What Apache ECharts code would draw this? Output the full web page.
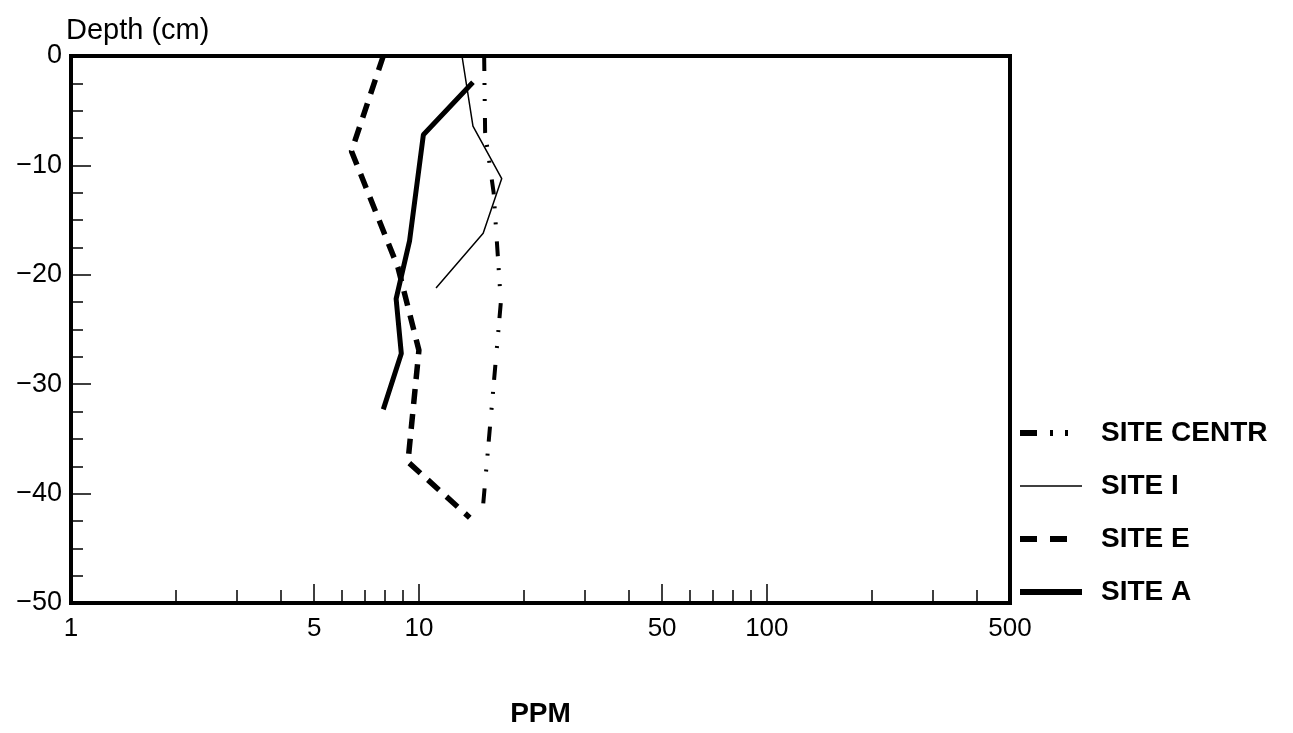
<!DOCTYPE html>
<html>
<head>
<meta charset="utf-8">
<script src="https://cdn.jsdelivr.net/npm/echarts@6/dist/echarts.min.js"></script>
<style>
html, body { margin: 0; padding: 0; background: #fff; }
#main { width: 1293px; height: 733px; }
</style>
</head>
<body>
<div id="main"></div>
<script>
// values: [ppm, depth]
var siteCentrPpm   = [15.4, 15.5, 16.4, 17.2, 16.2, 15.3];
var siteCentrDepth = [0, -7, -12.5, -22.5, -32, -41];
var siteIPpm   = [13.3, 14.3, 17.3, 15.3, 11.2];
var siteIDepth = [0, -6.4, -11.2, -16.2, -21.2];
var siteEPpm   = [7.9, 6.4, 8.7, 10.0, 9.3, 14.0];
var siteEDepth = [0, -8.7, -19.3, -26.9, -37.1, -42.2];
var siteAPpm   = [14.3, 10.3, 9.4, 8.6, 8.9, 7.9];
var siteADepth = [-2.4, -7.2, -16.9, -22.2, -27.2, -32.3];

var xLabelValues = [1, 5, 10, 50, 100, 500];
var xMajorTicks  = [5, 10, 50, 100];
var xMinorTicks  = [2, 3, 4, 6, 7, 8, 9, 20, 30, 40, 60, 70, 80, 90, 200, 300, 400];

function pairs(xs, ys) {
    var out = [];
    for (var i = 0; i < xs.length; i++) out.push([xs[i], ys[i]]);
    return out;
}

var font = 'Liberation Sans, Arial, sans-serif';

var myChart = echarts.init(document.getElementById('main'));
var option = {
    animation: false,
    backgroundColor: '#fff',
    title: {
        text: 'Depth (cm)',
        left: 61,
        top: 11,
        textStyle: { color: '#000', fontFamily: font, fontSize: 29, fontWeight: 'normal' }
    },
    legend: {
        orient: 'vertical',
        left: 1012,
        top: 414,
        itemWidth: 62,
        itemHeight: 16,
        itemGap: 25,
        itemStyle: { opacity: 0 },
        textStyle: { color: '#000', fontFamily: font, fontSize: 28, fontWeight: 'bold', padding: [0, 0, 0, 14] },
        data: [
            { name: 'SITE CENTR', itemStyle: { opacity: 0 }, lineStyle: { color: '#000', width: 6, type: [17, 13, 3, 12, 3, 20] } },
            { name: 'SITE I', itemStyle: { opacity: 0 }, lineStyle: { color: '#000', width: 1.5, type: 'solid' } },
            { name: 'SITE E', itemStyle: { opacity: 0 }, lineStyle: { color: '#000', width: 6, type: [17, 13, 17, 40] } },
            { name: 'SITE A', itemStyle: { opacity: 0 }, lineStyle: { color: '#000', width: 6, type: 'solid' } }
        ]
    },
    grid: {
        left: 71, right: 283, top: 56, bottom: 129,
        show: true,
        borderColor: '#000',
        borderWidth: 4
    },
    xAxis: [
        {   // labels + major ticks
            type: 'log',
            logBase: 10,
            min: 1,
            max: 500,
            position: 'bottom',
            name: 'PPM',
            nameLocation: 'middle',
            nameGap: 97,
            nameTextStyle: { color: '#000', fontFamily: font, fontSize: 28, fontWeight: 'bold' },
            axisLine: { onZero: false, lineStyle: { color: '#000', width: 4 } },
            axisTick: { inside: true, length: 19, lineStyle: { color: '#000', width: 1.5 }, customValues: xMajorTicks },
            axisLabel: { color: '#000', fontFamily: font, fontSize: 26, margin: 13, customValues: xLabelValues },
            splitLine: { show: false }
        },
        {   // minor ticks
            type: 'log',
            logBase: 10,
            min: 1,
            max: 500,
            position: 'bottom',
            axisLine: { show: false, onZero: false },
            axisTick: { inside: true, length: 13, lineStyle: { color: '#000', width: 1.5 }, customValues: xMinorTicks },
            axisLabel: { show: false },
            splitLine: { show: false }
        }
    ],
    yAxis: {
        type: 'value',
        min: -50,
        max: 0,
        interval: 10,
        axisLine: { onZero: false, lineStyle: { color: '#000', width: 4 } },
        axisTick: { inside: true, length: 20, lineStyle: { color: '#000', width: 1.5 } },
        minorTick: { show: true, splitNumber: 4, length: 12, lineStyle: { color: '#000', width: 1.5 } },
        axisLabel: {
            color: '#000', fontFamily: font, fontSize: 27, margin: 9,
            formatter: function (v) { return String(v).replace('-', '\u2212'); }
        },
        splitLine: { show: false }
    },
    series: [
        {
            name: 'SITE CENTR',
            type: 'line',
            symbol: 'none',
            itemStyle: { color: '#000' },
            lineStyle: { color: '#000', width: 4, type: [15, 12, 2, 14, 2, 17] },
            data: pairs(siteCentrPpm, siteCentrDepth)
        },
        {
            name: 'SITE I',
            type: 'line',
            symbol: 'none',
            itemStyle: { color: '#000' },
            lineStyle: { color: '#000', width: 1.5 },
            data: pairs(siteIPpm, siteIDepth)
        },
        {
            name: 'SITE E',
            type: 'line',
            symbol: 'none',
            itemStyle: { color: '#000' },
            lineStyle: { color: '#000', width: 5.5, type: [15, 10] },
            data: pairs(siteEPpm, siteEDepth)
        },
        {
            name: 'SITE A',
            type: 'line',
            symbol: 'none',
            itemStyle: { color: '#000' },
            lineStyle: { color: '#000', width: 5 },
            data: pairs(siteAPpm, siteADepth)
        }
    ]
};
myChart.setOption(option);
</script>
</body>
</html>
